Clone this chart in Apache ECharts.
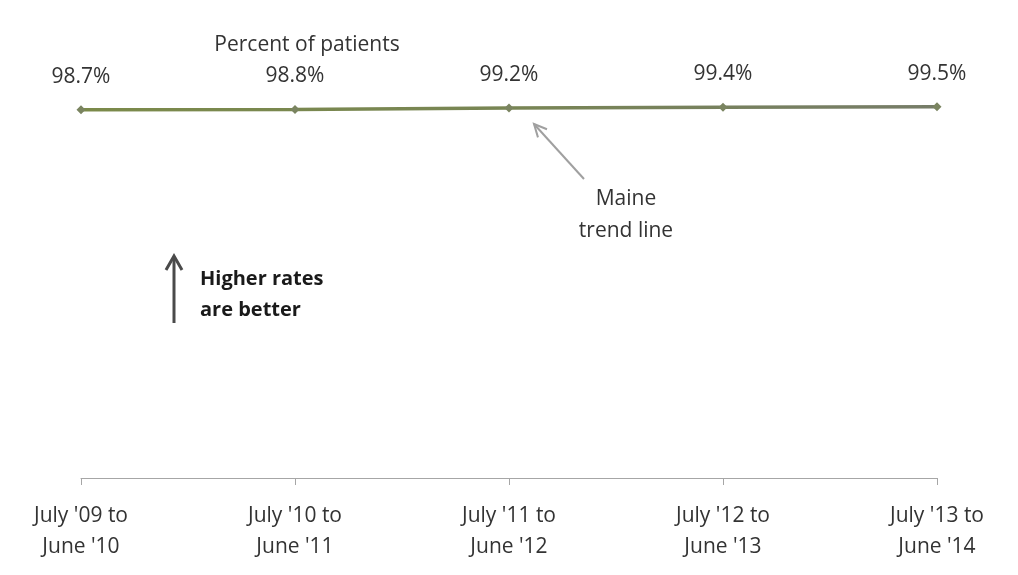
<!DOCTYPE html>
<html>
<head>
<meta charset="utf-8">
<script src="https://cdn.jsdelivr.net/npm/echarts@6/dist/echarts.min.js"></script>
<style>
  html, body { margin: 0; padding: 0; background: #ffffff; }
  #chart { width: 1018px; height: 575px; }
</style>
</head>
<body>
<div id="chart"></div>
<script>
// Reporting periods (July to June) and the Maine rate for each
const periods = [
  "July '09 to\nJune '10",
  "July '10 to\nJune '11",
  "July '11 to\nJune '12",
  "July '12 to\nJune '13",
  "July '13 to\nJune '14"
];
const maineRates = [98.7, 98.8, 99.2, 99.4, 99.5];

const FONT = "'Open Sans', 'Noto Sans', sans-serif";
const chart = echarts.init(document.getElementById('chart'));

const lineGradient = new echarts.graphic.LinearGradient(0, 0, 1, 0, [
  { offset: 0, color: '#7b8a4a' },
  { offset: 0.5, color: '#788554' },
  { offset: 1, color: '#767c68' }
]);

chart.setOption({
  backgroundColor: '#ffffff',
  animation: false,
  grid: { left: 81, right: 81, top: 105, bottom: 97 },
  xAxis: {
    type: 'category',
    data: periods,
    boundaryGap: false,
    axisLine: { lineStyle: { color: '#a6a6a6', width: 1 } },
    axisTick: { show: true, length: 7, lineStyle: { color: '#a6a6a6' } },
    axisLabel: {
      color: '#333333',
      fontFamily: FONT,
      fontSize: 21,
      lineHeight: 31,
      margin: 23,
      align: 'center'
    }
  },
  yAxis: {
    type: 'value',
    min: 0,
    max: 100,
    show: false,
    splitLine: { show: false }
  },
  series: [{
    name: 'Maine',
    type: 'line',
    data: maineRates,
    symbol: 'diamond',
    symbolSize: 9,
    itemStyle: { color: '#7a8460' },
    lineStyle: { color: lineGradient, width: 3.5 },
    label: {
      show: true,
      position: 'top',
      distance: 18,
      formatter: '{c}%',
      color: '#333333',
      fontFamily: FONT,
      fontSize: 21
    }
  }]
});

// Annotations: series caption, callout to the trend line, and direction note
const tip = chart.convertToPixel({ seriesIndex: 0 }, [2, maineRates[2]]);
const tipX = tip[0] + 25, tipY = tip[1] + 16;
const tailX = tipX + 50, tailY = tipY + 55;
const ang = Math.atan2(tailY - tipY, tailX - tipX);
const headLen = 14, headSpread = 0.45;

chart.setOption({
  graphic: [
    {
      type: 'text', x: 307, y: 35,
      style: {
        text: 'Percent of patients', fill: '#333333', font: '21px ' + FONT,
        align: 'center'
      }
    },
    {
      type: 'polyline',
      shape: { points: [[tailX, tailY], [tipX, tipY]] },
      style: { stroke: '#a0a0a0', lineWidth: 2, fill: null }
    },
    {
      type: 'polyline',
      shape: { points: [
        [tipX + headLen * Math.cos(ang - headSpread), tipY + headLen * Math.sin(ang - headSpread)],
        [tipX, tipY],
        [tipX + headLen * Math.cos(ang + headSpread), tipY + headLen * Math.sin(ang + headSpread)]
      ] },
      style: { stroke: '#a0a0a0', lineWidth: 2, fill: null }
    },
    {
      type: 'text', x: 626, y: 183,
      style: {
        text: 'Maine\ntrend line', fill: '#333333', font: '21px ' + FONT,
        align: 'center', lineHeight: 32
      }
    },
    {
      type: 'polyline',
      shape: { points: [[174, 323], [174, 257]] },
      style: { stroke: '#4a4a4a', lineWidth: 3, fill: null }
    },
    {
      type: 'polyline',
      shape: { points: [[166, 270], [174, 256], [182, 270]] },
      style: { stroke: '#4a4a4a', lineWidth: 3, fill: null }
    },
    {
      type: 'text', left: 200, top: 264,
      style: {
        text: 'Higher rates\nare better', fill: '#1a1a1a',
        font: 'bold 20px ' + FONT, lineHeight: 31
      }
    }
  ]
});
</script>
</body>
</html>
